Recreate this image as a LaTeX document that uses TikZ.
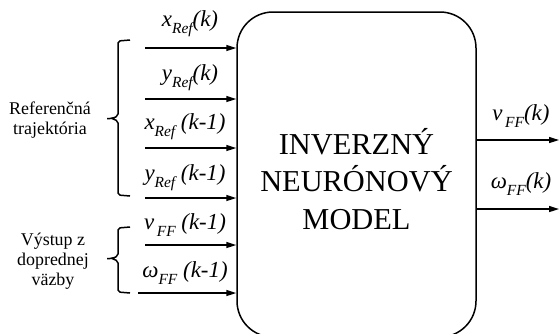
\documentclass[tikz,border=0pt]{standalone}
\usepackage{fontspec}
\setmainfont{Liberation Serif}
\usetikzlibrary{arrows.meta}
\newcommand{\sig}[3]{\fontsize{23}{23}\selectfont\itshape #1\raisebox{-7pt}{\fontsize{15.5}{15.5}\selectfont\itshape #2}#3}
\begin{document}
\begin{tikzpicture}[x=1bp,y=-1bp,
  conn/.style={line width=1.5bp,-{Triangle[length=10bp,width=6bp]}},
  brace/.style={line width=1.5bp,rounded corners=2bp},
  lbl/.style={inner sep=0pt,anchor=center},
  side/.style={align=center,font=\fontsize{18}{20}\selectfont,inner sep=0pt}]
\useasboundingbox (0,0) rectangle (559,333);
\begin{scope}
\clip (0,0) rectangle (559,333);
\node[draw,line width=1.5bp,rounded corners=36bp,minimum width=239bp,minimum height=325bp,inner sep=0pt] (box) at (356.5,174.5) {};
\end{scope}
\node[align=center,font=\fontsize{30.5}{38}\selectfont,inner sep=0pt] (title) at (356.5,179) {INVERZNÝ\\NEURÓNOVÝ\\MODEL};
% inputs
\coordinate (s1) at (145,48);
\coordinate (s2) at (145,99);
\coordinate (s3) at (145,148);
\coordinate (s4) at (145,198);
\coordinate (s5) at (145,245);
\coordinate (s6) at (138,293);
\foreach \i in {1,...,6}{\draw[conn] (s\i) -- (s\i -| box.west);}
\node[lbl] (l1) at (190,24) {\sig{x}{Ref}{(k)}};
\node[lbl] (l2) at (190,78) {\sig{y}{Ref}{(k)}};
\node[lbl] (l3) at (185,127) {\sig{x}{Ref}{ (k-1)}};
\node[lbl] (l4) at (185,178) {\sig{y}{Ref}{ (k-1)}};
\node[lbl] (l5) at (185,225) {\sig{v}{\,FF}{ (k-1)}};
\node[lbl] (l6) at (185,273) {\sig{ω}{FF}{ (k-1)}};
% outputs
\coordinate (o1) at (559,140);
\coordinate (o2) at (559,209);
\draw[conn] (box.east |- o1) -- (o1);
\draw[conn] (box.east |- o2) -- (o2);
\node[lbl] (m1) at (521,116) {\sig{v}{\,FF}{(k)}};
\node[lbl] (m2) at (521,184) {\sig{ω}{FF}{(k)}};
% braces
\draw[brace] (130,40) -- (118,41) -- (118,116) -- (112,118.5) -- (107,118.5) (112,118.5) -- (118,121) -- (118,195) -- (130,196);
\draw[brace] (130,227) -- (118,228) -- (118,256) -- (112,258.5) -- (107,258.5) (112,258.5) -- (118,261) -- (118,292) -- (130,293);
\node[side] (t1) at (50,120) {Referenčná\\trajektória};
\node[side] (t2) at (53,261) {Výstup z\\doprednej\\väzby};
\end{tikzpicture}
\end{document}
